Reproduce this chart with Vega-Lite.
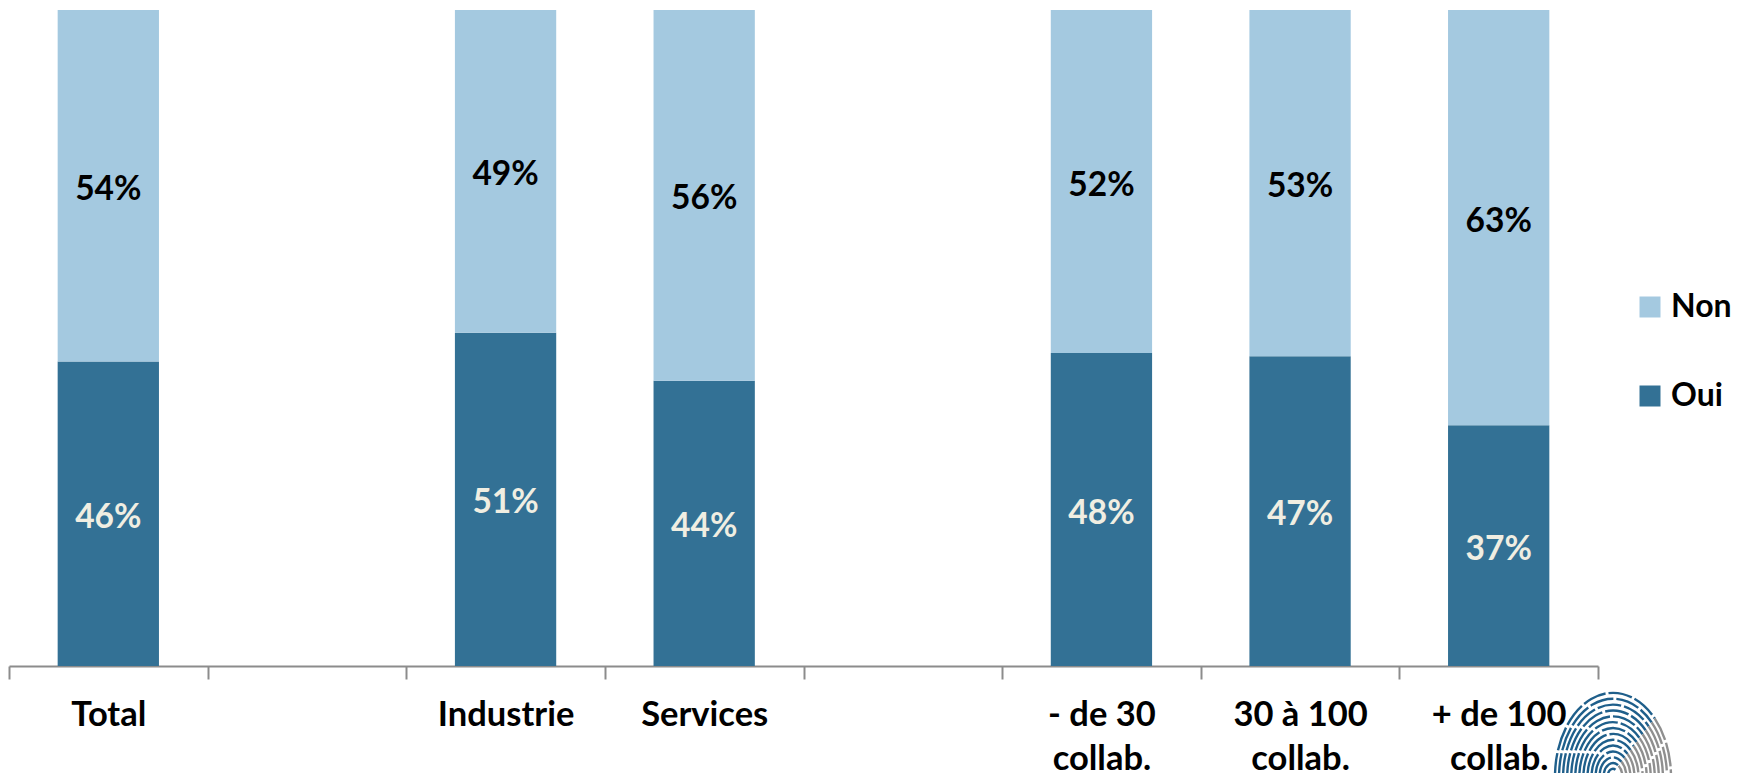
{"$schema":"https://vega.github.io/schema/vega-lite/v6.json","width":1589,"height":656,"padding":{"left":9,"top":10,"right":142,"bottom":107},"autosize":"none","background":"white",
"layer":[
{"data":{"values":[{"lx":1604,"ly":-111}]},
"encoding":{"x":{"field":"lx","type":"quantitative","scale":{"domain":[0,1589]},"axis":null},"y":{"field":"ly","type":"quantitative","scale":{"domain":[0,656]},"axis":null}},
"layer":[
{"mark":{"type":"point","filled":false,"opacity":1,"size":10000,"stroke":"#1F5F8B","strokeWidth":2.4,"strokeDash":[24,3],"shape":"M-1.16 0A1.16 1.68 0 0 1 .833 -1.172M-1.079 0A1.079 1.562 0 0 1 .773 -1.093M-.998 0A.998 1.445 0 0 1 .713 -1.014M-.916 0A.916 1.327 0 0 1 .652 -.935M-.835 0A.835 1.21 0 0 1 .592 -.856M-.754 0A.754 1.092 0 0 1 .532 -.778M-.673 0A.673 .974 0 0 1 .472 -.699M-.592 0A.592 .857 0 0 1 .412 -.62M-.51 0A.51 .739 0 0 1 .351 -.541M-.429 0A.429 .622 0 0 1 .291 -.462M-.348 0A.348 .504 0 0 1 .231 -.383M-.267 0A.267 .386 0 0 1 .171 -.304M-.186 0A.186 .269 0 0 1 .111 -.225M-.104 0A.104 .151 0 0 1 .05 -.146"}},
{"mark":{"type":"point","filled":false,"opacity":1,"size":10000,"stroke":"#8F8F8F","strokeWidth":2.4,"strokeDash":[24,3],"shape":"M.833 -1.172A1.16 1.68 0 0 1 1.16 0M.773 -1.093A1.079 1.562 0 0 1 1.079 0M.713 -1.014A.998 1.445 0 0 1 .998 0M.652 -.935A.916 1.327 0 0 1 .916 0M.592 -.856A.835 1.21 0 0 1 .835 0M.532 -.778A.754 1.092 0 0 1 .754 0M.472 -.699A.673 .974 0 0 1 .673 0M.412 -.62A.592 .857 0 0 1 .592 0M.351 -.541A.51 .739 0 0 1 .51 0M.291 -.462A.429 .622 0 0 1 .429 0M.231 -.383A.348 .504 0 0 1 .348 0M.171 -.304A.267 .386 0 0 1 .267 0M.111 -.225A.186 .269 0 0 1 .186 0"}}
]},
{"data":{"values":[
{"c":"Total","r":"Oui","v":46.4,"t":"46%"},{"c":"Total","r":"Non","v":53.6,"t":"54%"},
{"c":"Industrie","r":"Oui","v":50.8,"t":"51%"},{"c":"Industrie","r":"Non","v":49.2,"t":"49%"},
{"c":"Services","r":"Oui","v":43.5,"t":"44%"},{"c":"Services","r":"Non","v":56.5,"t":"56%"},
{"c":"- de 30|collab.","r":"Oui","v":47.7,"t":"48%"},{"c":"- de 30|collab.","r":"Non","v":52.3,"t":"52%"},
{"c":"30 à 100|collab.","r":"Oui","v":47.2,"t":"47%"},{"c":"30 à 100|collab.","r":"Non","v":52.8,"t":"53%"},
{"c":"+ de 100|collab.","r":"Oui","v":36.7,"t":"37%"},{"c":"+ de 100|collab.","r":"Non","v":63.3,"t":"63%"}]},
"transform":[{"stack":"v","groupby":["c"],"sort":[{"field":"r","order":"descending"}],"as":["y0","y1"]},{"calculate":"(datum.y0+datum.y1)/2","as":"mid"}],
"encoding":{"x":{"field":"c","type":"nominal","sort":null,"scale":{"domain":["Total"," ","Industrie","Services","  ","- de 30|collab.","30 à 100|collab.","+ de 100|collab."],"paddingInner":0,"paddingOuter":0},
"axis":{"title":null,"labelAngle":0,"labelExpr":"split(datum.label,'|')","labelFont":"Lato","labelFontWeight":"bold","labelFontSize":34.5,"labelColor":"#000","labelLineHeight":44,"labelPadding":19,"tickBand":"extent","tickSize":13,"tickColor":"#8c8c8c","tickWidth":2,"domainColor":"#8c8c8c","domainWidth":2,"grid":false,"labelBaseline":"top"}}},
"layer":[
{"mark":{"type":"bar","width":{"band":0.51}},"encoding":{"y":{"field":"y0","type":"quantitative","scale":{"domain":[0,100]},"axis":null},"y2":{"field":"y1"},
"color":{"field":"r","type":"nominal","scale":{"domain":["Non","Oui"],"range":["#A4C9E0","#337195"]},
"legend":{"title":null,"orient":"none","legendX":1625,"legendY":281,"symbolType":"square","symbolSize":441,"symbolStrokeWidth":0,"symbolOpacity":1,"labelFont":"Lato","labelFontWeight":"bold","labelFontSize":32,"labelColor":"#000","labelOffset":5,"rowPadding":57,"padding":0}}}},
{"mark":{"type":"text","font":"Lato","fontWeight":"bold","fontSize":33.5,"baseline":"middle","dy":4},"encoding":{"y":{"field":"mid","type":"quantitative"},"text":{"field":"t"},
"color":{"field":"r","type":"nominal","scale":{"domain":["Non","Oui"],"range":["#000000","#F0EEE2"]},"legend":null}}}
],"resolve":{"scale":{"color":"independent"}}}
],"resolve":{"scale":{"x":"independent","y":"independent"}},
"config":{"view":{"stroke":null}}}
